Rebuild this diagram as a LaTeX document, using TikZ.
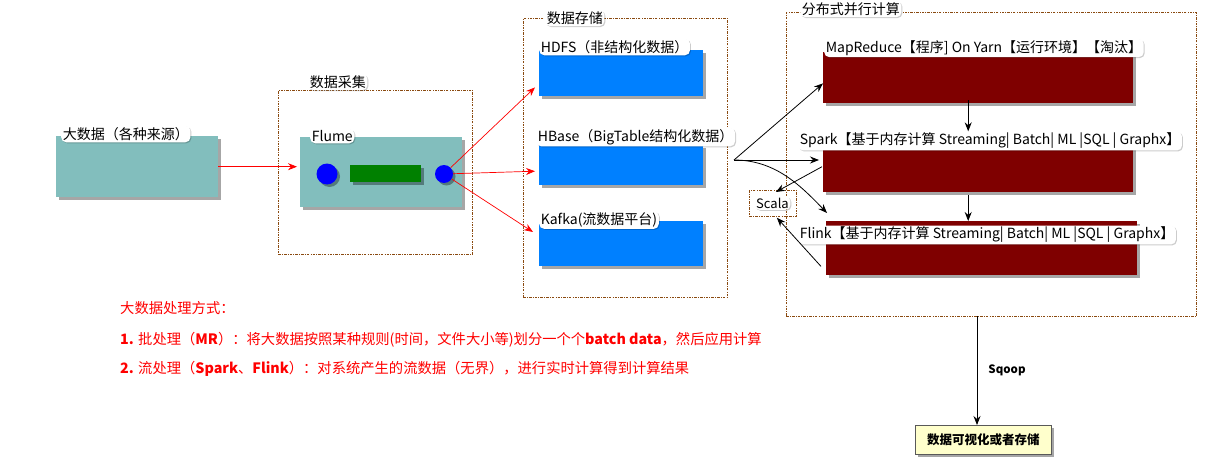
\documentclass[tikz,border=0pt]{standalone}
\usepackage{fontspec}
\setmainfont{Noto Sans CJK SC}
\usetikzlibrary{arrows.meta,shadows,calc}
\definecolor{tealc}{HTML}{82BEBD}
\definecolor{bluec}{HTML}{0080FF}
\definecolor{mrred}{HTML}{7F0000}
\definecolor{greenc}{HTML}{008000}
\definecolor{brownc}{HTML}{8A4A10}
\definecolor{outfill}{HTML}{FFFFCC}
\tikzset{
  shd/.style={drop shadow={shadow xshift=2.5pt,shadow yshift=-2.5pt,opacity=0.35,fill=black}},
  rectbox/.style={draw=none,inner sep=0,anchor=north west,shd},
  tealbox/.style={rectbox,fill=tealc},
  bluebox/.style={rectbox,fill=bluec},
  mrbox/.style={rectbox,fill=mrred},
  group/.style={draw=brownc,dash pattern=on 2.5pt off 1.2pt on 0.8pt off 1.2pt,line width=0.7pt,inner sep=0,anchor=north west},
  lbl/.style={fill=white,rounded corners=5pt,inner sep=1.6pt,text=black,
     font=\fontsize{14}{16}\selectfont,
     drop shadow={shadow xshift=1pt,shadow yshift=-1pt,opacity=0.2,fill=black}},
  ttl/.style={lbl,font=\fontsize{14}{16}\selectfont},
  redarr/.style={draw=red,line width=0.7pt,-{Stealth[length=9pt,width=7pt,inset=3pt]}},
  blk/.style={draw=black,line width=0.8pt,-{Stealth[length=9pt,width=7pt,inset=3pt]}},
  redtxt/.style={anchor=west,text=red,inner sep=0,font=\fontsize{14.3}{16}\selectfont},
}
\begin{document}
\begin{tikzpicture}[x=1pt,y=-1pt]
\useasboundingbox (0,0) rectangle (1220,476);

% group boxes
\node[group,minimum width=194,minimum height=164] (g1) at (278,90) {};
\node[group,minimum width=204,minimum height=279] (g2) at (523,18) {};
\node[group,minimum width=410,minimum height=304] (g3) at (786,12) {};
\node[ttl,anchor=west] (g1t) at (308,82) {数据采集};
\node[ttl,anchor=west] (g2t) at (545,18) {数据存储};
\node[ttl,anchor=west] (g3t) at (800,9) {分布式并行计算};

% big data
\node[tealbox,minimum width=162,minimum height=61] (bd) at (56,136) {};
\node[lbl,anchor=west] (bdl) at (61,134) {大数据（各种来源）};

% flume
\node[tealbox,minimum width=162,minimum height=70] (flume) at (300,137) {};
\node[lbl,anchor=west] (flumel) at (310,136) {Flume};
\node[circle,fill=blue,minimum size=21pt,inner sep=0,shd] (c1) at (327,174) {};
\node[rectbox,fill=greenc,minimum width=71,minimum height=17] (gr) at (350,165) {};
\node[circle,fill=blue,minimum size=18pt,inner sep=0,shd] (c2) at (444,174) {};

% storage
\node[bluebox,minimum width=164,minimum height=46] (hdfs) at (539,50) {};
\node[bluebox,minimum width=164,minimum height=40] (hbase) at (539,145) {};
\node[bluebox,minimum width=164,minimum height=45] (kafka) at (539,221) {};
\node[lbl,anchor=west] (hdfsl) at (539,47) {HDFS（非结构化数据）};
\node[lbl,anchor=west] (hbasel) at (536,137) {HBase（BigTable结构化数据）};
\node[lbl,anchor=west] (kafkal) at (539,220) {Kafka(流数据平台)};

% compute
\node[mrbox,minimum width=310,minimum height=51] (mr) at (823,52) {};
\node[mrbox,minimum width=310,minimum height=47] (spark) at (823,145) {};
\node[mrbox,minimum width=311,minimum height=54] (flink) at (826,221) {};
\node[lbl,anchor=west] (mrl) at (824,48) {MapReduce【程序] On Yarn【运行环境】【淘汰】};
\node[lbl,anchor=west] (sparkl) at (798,141) {Spark【基于内存计算 Streaming| Batch| ML |SQL | Graphx】};
\node[lbl,anchor=west] (flinkl) at (798,235) {Flink【基于内存计算 Streaming| Batch| ML |SQL | Graphx】};

% scala
\node[group,minimum width=47,minimum height=26] (scala) at (749,190) {};
\node[lbl,font=\fontsize{13}{15}\selectfont] (scalal) at (772.5,203) {Scala};

% output
\node[draw=gray!70!black,fill=outfill,line width=0.7pt,minimum width=136,minimum height=29,inner sep=0,anchor=north west,shd,
  font=\bfseries\fontsize{12.5}{14}\selectfont] (out) at (915,425) {数据可视化或者存储};

% red arrows
\draw[redarr] (bd.east) -- ($(bd.east -| flume.west)+(-3,0)$);
\draw[redarr] (c2) -- ($(hdfs.south west)+(-4,-9)$);
\draw[redarr] (c2) -- ($(hbase.west)+(-4,6)$);
\draw[redarr] (c2) -- ($(kafka.north west)+(-6,11)$);

% black arrows
\coordinate (src) at (734,160);
\draw[blk] (src) -- ($(mr.south west)+(0,-20)$);
\draw[blk] (src) -- ($(spark.north west)+(-4,15)$);
\draw[blk] (src) .. controls (775,160) and (800,185) .. ($(flink.north west)+(1,-8)$);
\draw[blk] ($(spark.west)+(-1,-2)$) -- ($(scala.north)+(3,2)$);
\draw[blk] ($(flink.south west)+(-5,-9)$) -- ($(scala.south)+(4,1)$);
\draw[blk] ([xshift=-10pt,yshift=3pt]mr.south) -- ([xshift=-10pt]mr.south |- sparkl.north);
\draw[blk] ([xshift=-10pt,yshift=-3pt]spark.south) -- ([xshift=-10pt]spark.south |- flink.north);

% sqoop
\coordinate (sqtop) at (977,316);
\draw[blk] (sqtop) -- (sqtop |- out.north);
\node[font=\bfseries\fontsize{11.5}{13}\selectfont,inner sep=0] (sq) at (1007,370) {Sqoop};

% red text
\node[redtxt] (t0) at (120,308) {大数据处理方式：};
\node[redtxt] (t1) at (120,340) {\textbf{1.} 批处理（\textbf{MR}）：将大数据按照某种规则(时间，文件大小等)划分一个个\textbf{batch data}，然后应用计算};
\node[redtxt] (t2) at (120,369) {\textbf{2.} 流处理（\textbf{Spark}、\textbf{Flink}）：对系统产生的流数据（无界），进行实时计算得到计算结果};
\end{tikzpicture}
\end{document}
